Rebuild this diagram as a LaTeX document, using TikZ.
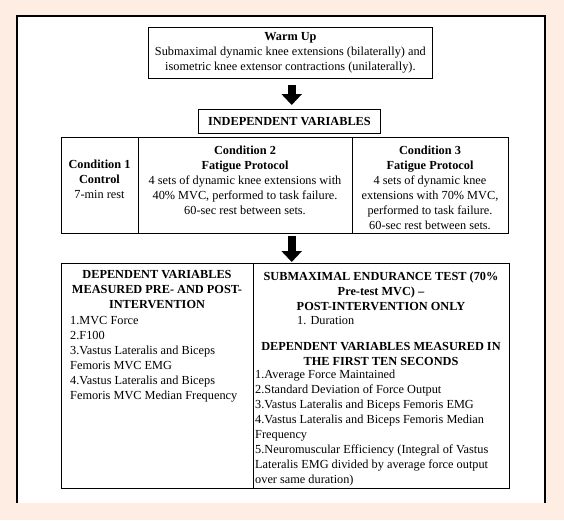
\documentclass[tikz,border=0pt]{standalone}
\usepackage{fontspec}
\setmainfont{Liberation Serif}
\usetikzlibrary{arrows.meta}
\definecolor{peach}{RGB}{253,237,227}
\tikzset{
    box/.style = {draw, line width=0.8pt, inner sep=0pt, anchor=north west},
    txt/.style = {inner sep=0pt, align=center, anchor=north, font=\fontsize{12.3}{15}\selectfont},
    lst/.style = {inner sep=0pt, align=left, anchor=north west, font=\fontsize{12.3}{15}\selectfont},
    bigarrow/.style = {line width=8pt, -{Triangle[width=20pt,length=11pt]}}
}
\begin{document}
\begin{tikzpicture}[x=1pt,y=-1pt]
        \fill[peach] (0,0) rectangle (564,520);
        \fill[white] (17,16) rectangle (545,503);
        \draw[line width=1.5pt] (17,503) -- (17,16) -- (545,16) -- (545,503);
        \node[style = box, minimum width=284pt, minimum height=51pt, align=center, font=\fontsize{12.3}{15}\selectfont] (warmup) at (148,27) {\textbf{Warm Up}\\Submaximal dynamic knee extensions (bilaterally) and\\isometric knee extensor contractions (unilaterally).};
        \node[style = box, minimum width=182pt, minimum height=24pt, font=\bfseries\fontsize{12.3}{15}\selectfont] (indep) at (198,109) {INDEPENDENT VARIABLES};
        \node[style = box, minimum width=77pt, minimum height=96pt] (condA) at (61,137) {};
        \node[style = box, minimum width=214pt, minimum height=96pt] (condB) at (138,137) {};
        \node[style = box, minimum width=156pt, minimum height=96pt] (condC) at (352,137) {};
        \node[style = txt] (condAtxt) at (99.5,160) {\textbf{Condition 1}\\\textbf{Control}\\7-min rest};
        \node[style = txt] (condBtxt) at (245,146) {\textbf{Condition 2}\\\textbf{Fatigue Protocol}\\4 sets of dynamic knee extensions with\\40\% MVC, performed to task failure.\\60-sec rest between sets.};
        \node[style = txt] (condCtxt) at (430,146) {\textbf{Condition 3}\\\textbf{Fatigue Protocol}\\4 sets of dynamic knee\\extensions with 70\% MVC,\\performed to task failure.\\60-sec rest between sets.};
        \node[style = box, minimum width=192pt, minimum height=225pt] (depL) at (61,263) {};
        \node[style = box, minimum width=256pt, minimum height=225pt] (depR) at (253,263) {};
        \node[style = txt, font=\bfseries\fontsize{12.3}{15}\selectfont] (depLhead) at (157,270) {DEPENDENT VARIABLES\\MEASURED PRE- AND POST-\\INTERVENTION};
        \node[style = lst] (depLlist) at (70,316) {1.MVC Force\\2.F100\\3.Vastus Lateralis and Biceps\\Femoris MVC EMG\\4.Vastus Lateralis and Biceps\\Femoris MVC Median Frequency};
        \node[style = txt, font=\bfseries\fontsize{12.3}{15}\selectfont] (endhead) at (381,272) {SUBMAXIMAL ENDURANCE TEST (70\%\\Pre-test MVC) --\\POST-INTERVENTION ONLY};
        \node[style = lst] (endlist) at (297,316) {1. Duration};
        \node[style = txt, font=\bfseries\fontsize{12.3}{15}\selectfont] (tenhead) at (381,342) {DEPENDENT VARIABLES MEASURED IN\\THE FIRST TEN SECONDS};
        \node[style = lst] (tenlist) at (255,370) {1.Average Force Maintained\\2.Standard Deviation of Force Output\\3.Vastus Lateralis and Biceps Femoris EMG\\4.Vastus Lateralis and Biceps Femoris Median\\Frequency\\5.Neuromuscular Efficiency (Integral of Vastus\\Lateralis EMG divided by average force output\\over same duration)};
        \coordinate (axis) at (291.7,0);
        \draw[style = bigarrow, shorten <=6pt, shorten >=4pt] (warmup.south -| axis) -- (indep.north -| axis);
        \draw[style = bigarrow, shorten <=2pt, shorten >=1pt] (condB.south -| axis) -- (depR.north -| axis);
    \end{tikzpicture}
\end{document}
